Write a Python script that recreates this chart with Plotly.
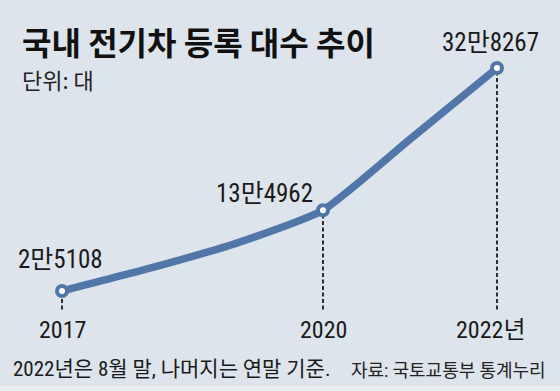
import plotly.graph_objects as go

# ---- data ----
years = [2017, 2018, 2019, 2020, 2021, 2022]
registrations = [25108, 55756, 89918, 134962, 231443, 328267]
marked_years = [2017, 2020, 2022]
marked_values = [25108, 134962, 328267]
value_labels = ["2만5108", "13만4962", "32만8267"]
tick_labels = ["2017", "2020", "2022년"]

title = "국내 전기차 등록 대수 추이"
unit = "단위: 대"
note = "2022년은 8월 말, 나머지는 연말 기준."
source = "자료: 국토교통부 통계누리"

W, H = 560, 391
BG = "#dde4ec"
LINE = "#5077a8"
KR = "Noto Sans CJK KR"
NUM = "Roboto Condensed, Noto Sans CJK KR"

fig = go.Figure()

# dotted drop lines
for x, v in zip(marked_years, marked_values):
    fig.add_shape(type="line", x0=x, x1=x, y0=0, y1=v, xref="x", yref="y",
                  line=dict(color="#1a1a1a", width=1.8, dash="4px,2.5px"), layer="below")

fig.add_trace(go.Scatter(x=years, y=registrations, mode="lines",
                         line=dict(color=LINE, width=7.5, shape="spline", smoothing=0.5),
                         hoverinfo="skip"))
fig.add_trace(go.Scatter(x=marked_years, y=marked_values, mode="markers",
                         marker=dict(size=10, color="white", line=dict(color=LINE, width=4)),
                         hoverinfo="skip"))

anns = []
# value labels: (xshift, yshift, xanchor)
shifts = [(-2, 15, "center"), (-8, 0, "right"), (-7, 9, "center")]
for x, v, t, (xs, ys, xa) in zip(marked_years, marked_values, value_labels, shifts):
    anns.append(dict(x=x, y=v, xref="x", yref="y", text=t, showarrow=False,
                     xanchor=xa, yanchor="bottom", xshift=xs, yshift=ys,
                     font=dict(family=NUM, size=25, color="#1a1a1a")))
# x tick labels
tshift = [0, 0, -7]
for x, t, s in zip(marked_years, tick_labels, tshift):
    anns.append(dict(x=x, y=0, xref="x", yref="y", text=t, showarrow=False,
                     xanchor="center", yanchor="top", xshift=s, yshift=-4,
                     font=dict(family=NUM, size=24, color="#1a1a1a")))
# titles
anns.append(dict(x=20 / W, y=1 - 16 / H, xref="paper", yref="paper", text="<b>" + title + "</b>",
                 showarrow=False, xanchor="left", yanchor="top",
                 font=dict(family=KR, size=32, color="#111111")))
anns.append(dict(x=20 / W, y=1 - 61 / H, xref="paper", yref="paper", text=unit,
                 showarrow=False, xanchor="left", yanchor="top",
                 font=dict(family=KR, size=22, color="#222222")))
anns.append(dict(x=11 / W, y=1 - 355 / H, xref="paper", yref="paper", text=note,
                 showarrow=False, xanchor="left", yanchor="top",
                 font=dict(family=NUM, size=21, color="#1a1a1a")))
anns.append(dict(x=349 / W, y=1 - 358 / H, xref="paper", yref="paper", text=source,
                 showarrow=False, xanchor="left", yanchor="top",
                 font=dict(family=NUM, size=18, color="#222222")))

px_per_year = 87.0
x0 = 2017 - 62 / px_per_year
k = 0.0007356
zero_px = 309.5
fig.update_layout(
    width=W, height=H,
    margin=dict(l=0, r=0, t=0, b=0),
    paper_bgcolor=BG, plot_bgcolor=BG,
    showlegend=False,
    annotations=anns,
    xaxis=dict(range=[x0, x0 + W / px_per_year], visible=False, fixedrange=True),
    yaxis=dict(range=[-(H - zero_px) / k, zero_px / k], visible=False, fixedrange=True),
)
fig.add_shape(type="rect", xref="paper", yref="paper", x0=0, x1=1, y0=0, y1=5 / H,
              fillcolor="#e9eef3", line=dict(width=0), layer="below")

fig.write_html("out.html", config={"displayModeBar": False},
               post_script="document.body.style.margin='0';document.body.style.overflow='hidden';")
